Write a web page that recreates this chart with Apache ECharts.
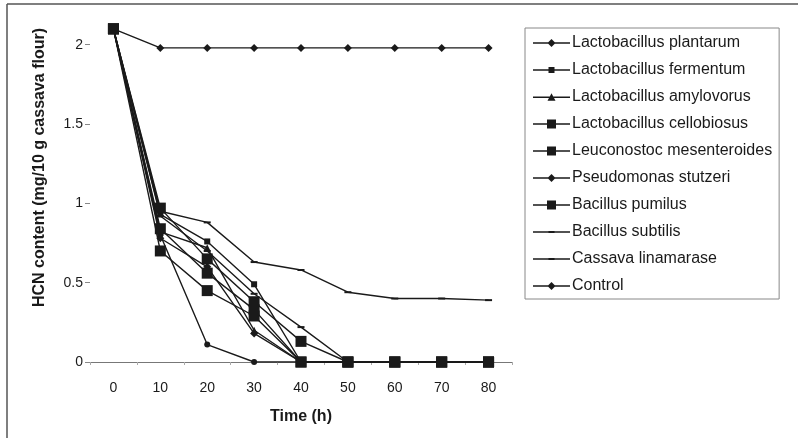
<!DOCTYPE html>
<html>
<head>
<meta charset="utf-8">
<script src="https://cdn.jsdelivr.net/npm/echarts@6/dist/echarts.min.js"></script>
<style>
  html, body { margin: 0; padding: 0; background: #fff; }
  #chart { width: 798px; height: 438px; }
</style>
</head>
<body>
<div id="chart"></div>
<script>
// time points (h)
var hours = ['0', '10', '20', '30', '40', '50', '60', '70', '80'];
var yTicks = [0, 0.5, 1, 1.5, 2];

// HCN content (mg/10 g cassava flour)
var plantarum   = [2.1, 0.78, 0.60, 0.18, 0, 0, 0, 0, 0];
var fermentum   = [2.1, 0.93, 0.76, 0.49, 0, 0, 0, 0, 0];
var amylovorus  = [2.1, 0.82, 0.72, 0.20, 0, 0, 0, 0, 0];
var cellobiosus = [2.1, 0.97, 0.65, 0.38, 0.13, 0, 0, 0, 0];
var leuconostoc = [2.1, 0.84, 0.56, 0.33, 0, 0, 0, 0, 0];
var pseudomonas = [2.1, 0.80, 0.11, 0, 0, 0, 0, 0, 0];
var pumilus     = [2.1, 0.70, 0.45, 0.29, 0, 0, 0, 0, 0];
var subtilis    = [2.1, 0.92, 0.70, 0.43, 0.22, 0, 0, 0, 0];
var linamarase  = [2.1, 0.95, 0.88, 0.63, 0.58, 0.44, 0.40, 0.40, 0.39];
var control     = [2.1, 1.98, 1.98, 1.98, 1.98, 1.98, 1.98, 1.98, 1.98];

var ink = '#1a1a1a';
var fontFam = '"Liberation Sans", Arial, sans-serif';

// legend icons: line with a small marker in the middle (excel style)
var stem = 'M0,-0.8 H37 V0.8 H0 Z ';
var icons = {
    diamond: 'path://' + stem + 'M18.5,-4 L22.5,0 L18.5,4 L14.5,0 Z',
    smallSq: 'path://' + stem + 'M15.5,-3 h6 v6 h-6 Z',
    tri: 'path://' + stem + 'M18.5,-4 L22.5,3.5 L14.5,3.5 Z',
    bigSq: 'path://' + stem + 'M14,-4.5 h9 v9 h-9 Z',
    dash: 'path://' + stem + 'M15.5,-1.1 h6 v2.2 h-6 Z'
};

function mkSeries(name, data, symbol, size) {
    return {
        name: name,
        type: 'line',
        data: data,
        symbol: symbol,
        symbolSize: size,
        showAllSymbol: true,
        lineStyle: { color: ink, width: 1.4 },
        itemStyle: { color: ink, borderWidth: 0 },
        emphasis: { disabled: true },
        animation: false
    };
}

var myChart = echarts.init(document.getElementById('chart'));
var option = {
    backgroundColor: '#fff',
    textStyle: { fontFamily: fontFam, color: ink },
    grid: { left: 90, right: 286, top: 13, bottom: 76 },
    legend: {
        orient: 'vertical',
        left: 525,
        top: 28,
        padding: [7, 7, 5, 8],
        borderColor: '#888',
        borderWidth: 1,
        itemWidth: 37,
        itemHeight: 14,
        itemGap: 11,
        textStyle: { fontSize: 16, color: ink, fontFamily: fontFam, lineHeight: 16, padding: [0, 0, 0, -3] },
        data: [
            { name: 'Lactobacillus plantarum', icon: icons.diamond },
            { name: 'Lactobacillus fermentum', icon: icons.smallSq },
            { name: 'Lactobacillus amylovorus', icon: icons.tri },
            { name: 'Lactobacillus cellobiosus', icon: icons.bigSq },
            { name: 'Leuconostoc mesenteroides', icon: icons.bigSq },
            { name: 'Pseudomonas stutzeri', icon: icons.diamond },
            { name: 'Bacillus pumilus', icon: icons.bigSq },
            { name: 'Bacillus subtilis', icon: icons.dash },
            { name: 'Cassava linamarase', icon: icons.dash },
            { name: 'Control', icon: icons.diamond }
        ]
    },
    graphic: [
        { type: 'line', shape: { x1: 7, y1: 4, x2: 798, y2: 4 }, style: { stroke: '#555', lineWidth: 1.5 } },
        { type: 'line', shape: { x1: 7, y1: 4, x2: 7, y2: 438 }, style: { stroke: '#555', lineWidth: 1.5 } }
    ],
    xAxis: {
        type: 'category',
        data: hours,
        boundaryGap: true,
        name: 'Time (h)',
        nameLocation: 'middle',
        nameGap: 47,
        nameTextStyle: { fontSize: 16, fontWeight: 'bold', color: ink },
        axisLine: { lineStyle: { color: '#777', width: 1 } },
        axisTick: { show: true, length: 3, lineStyle: { color: '#aaa' } },
        axisLabel: { fontSize: 14, color: ink, margin: 19 }
    },
    yAxis: {
        type: 'value',
        min: 0,
        max: 2.2,
        interval: 0.5,
        name: 'HCN content (mg/10 g cassava flour)',
        nameLocation: 'middle',
        nameGap: 42,
        nameTextStyle: { fontSize: 16, fontWeight: 'bold', color: ink, padding: [0, 0, 0, 40] },
        axisLine: { show: false },
        axisTick: { show: true, length: 5, customValues: yTicks, lineStyle: { color: '#888' } },
        axisLabel: { fontSize: 14, color: ink, margin: 7, customValues: yTicks },
        splitLine: { show: false }
    },
    series: [
        mkSeries('Control', control, 'diamond', 8),
        mkSeries('Cassava linamarase', linamarase, 'rect', [7, 2]),
        mkSeries('Bacillus subtilis', subtilis, 'rect', [7, 2]),
        mkSeries('Pseudomonas stutzeri', pseudomonas, 'circle', 6),
        mkSeries('Lactobacillus plantarum', plantarum, 'diamond', 8),
        mkSeries('Lactobacillus fermentum', fermentum, 'rect', 6),
        mkSeries('Lactobacillus amylovorus', amylovorus, 'triangle', 7),
        mkSeries('Lactobacillus cellobiosus', cellobiosus, 'rect', 11),
        mkSeries('Leuconostoc mesenteroides', leuconostoc, 'rect', 11),
        mkSeries('Bacillus pumilus', pumilus, 'rect', 11)
    ]
};
myChart.setOption(option);
</script>
</body>
</html>
